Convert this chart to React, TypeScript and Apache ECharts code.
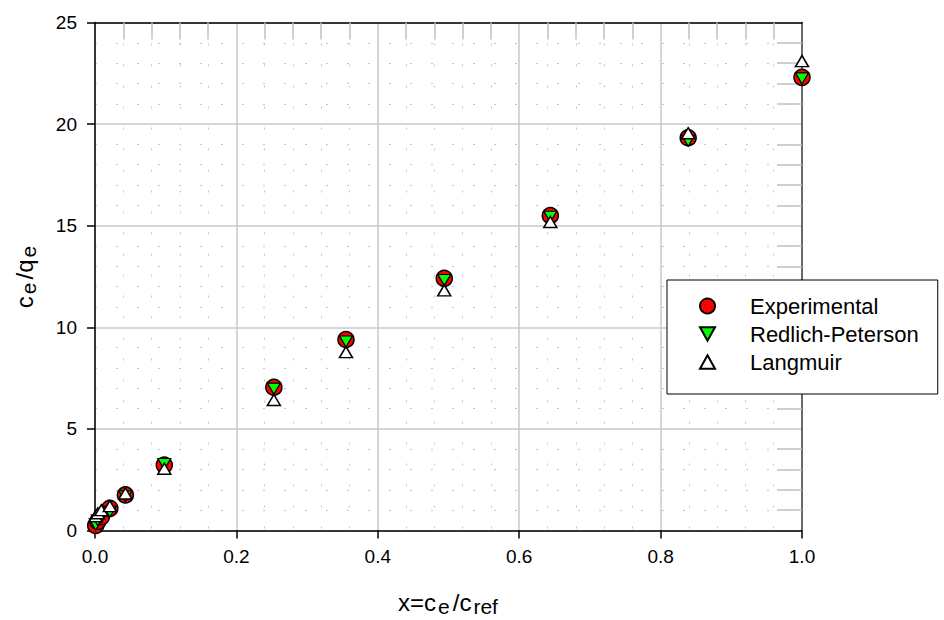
import React, { useEffect, useRef } from "react";
import * as echarts from "echarts";

const xValues = [0.001, 0.004, 0.009, 0.021, 0.043, 0.098, 0.253, 0.355, 0.494, 0.644, 0.839, 1.0];
const experimental = [0.25, 0.45, 0.68, 1.09, 1.75, 3.22, 7.05, 9.4, 12.41, 15.5, 19.33, 22.3];
const redlichPeterson = [0.3, 0.5, 0.66, 0.93, 1.68, 3.27, 6.98, 9.3, 12.33, 15.44, 19.18, 22.25];
const langmuir = [0.7, 0.85, 1.0, 1.2, 1.82, 3.04, 6.42, 8.78, 11.82, 15.18, 19.55, 23.1];
const seriesNames = ["Experimental", "Redlich-Peterson", "Langmuir"];

const FONT = "Arial, 'Liberation Sans', sans-serif";

function pairs(ys: number[]) {
  return xValues.map((x, i) => [x, ys[i]]);
}

export default function App() {
  const ref = useRef<HTMLDivElement>(null);
  useEffect(() => {
    if (!ref.current) return;
    const chart = echarts.init(ref.current, null, { renderer: "svg" });
    const minorSplit = {
      show: true,
      lineStyle: { color: "#c4c4c4", width: 1, type: [2, 19] as any },
    };
    const rich = {
      n: { fontSize: 24, fontFamily: FONT, color: "#000", padding: [0, 1, 0, 1] },
      s: { fontSize: 21, fontFamily: FONT, color: "#000", padding: [8, 2, 0, 1] },
    };
    chart.setOption({
      animation: false,
      backgroundColor: "#ffffff",
      textStyle: { fontFamily: FONT },
      grid: {
        left: 95,
        right: 142,
        top: 22.5,
        bottom: 89.5,
        containLabel: false,
        outerBoundsMode: "none",
      },
      legend: {
        orient: "vertical",
        left: 667,
        top: 280,
        padding: [14, 19, 20, 32],
        itemGap: 4,
        itemWidth: 15,
        itemHeight: 15,
        backgroundColor: "#ffffff",
        borderColor: "#000000",
        borderWidth: 1,
        borderRadius: 0,
        textStyle: { fontSize: 22, lineHeight: 24, color: "#000", fontFamily: FONT, padding: [0, 0, 0, 30] },
        data: [
          { name: seriesNames[0], icon: "circle" },
          { name: seriesNames[1], icon: "path://M0,0 L10,0 L5,9 Z" },
          { name: seriesNames[2], icon: "path://M5,0 L10,9 L0,9 Z" },
        ],
      },
      xAxis: [
        {
          type: "value",
          min: 0,
          max: 1,
          interval: 0.2,
          position: "bottom",
          axisLine: { show: true, onZero: false, lineStyle: { color: "#000", width: 1.5 } },
          axisTick: { show: true, length: 8, lineStyle: { color: "#000", width: 1.5 } },
          axisLabel: {
            fontSize: 19,
            color: "#000",
            margin: 16,
            fontFamily: FONT,
            formatter: (v: number) => v.toFixed(1),
          },
          splitLine: { show: true, lineStyle: { color: "#c8c8c8", width: 1.5 } },
          minorTick: { show: false, splitNumber: 5 },
          minorSplitLine: minorSplit,
          name: "{n|x=c}{s|e}{n|/c}{s|ref}",
          nameLocation: "middle",
          nameGap: 57,
          nameTextStyle: { rich },
        },
        {
          type: "value",
          min: 0,
          max: 1,
          interval: 0.2,
          position: "top",
          axisLine: { show: true, onZero: false, lineStyle: { color: "#000", width: 1.5 } },
          axisTick: { show: false, inside: true },
          axisLabel: { show: false },
          splitLine: { show: false },
          minorTick: { show: true, splitNumber: 5, length: 17, lineStyle: { color: "#c0c0c0", width: 1.5 } },
        },
      ],
      yAxis: [
        {
          type: "value",
          min: 0,
          max: 25,
          interval: 5,
          position: "left",
          axisLine: { show: true, onZero: false, lineStyle: { color: "#000", width: 1.5 } },
          axisTick: { show: true, length: 8, lineStyle: { color: "#000", width: 1.5 } },
          axisLabel: { fontSize: 19, color: "#000", margin: 18, fontFamily: FONT },
          splitLine: { show: true, lineStyle: { color: "#c8c8c8", width: 1.5 } },
          minorTick: { show: false, splitNumber: 5 },
          minorSplitLine: minorSplit,
          name: "{n|c}{s|e}{n|/q}{s|e}",
          nameLocation: "middle",
          nameGap: 56,
          nameTextStyle: { rich },
        },
        {
          type: "value",
          min: 0,
          max: 25,
          interval: 5,
          position: "right",
          axisLine: { show: true, onZero: false, lineStyle: { color: "#444", width: 1.5 } },
          axisTick: { show: false, inside: true },
          axisLabel: { show: false },
          splitLine: { show: false },
          minorTick: { show: true, splitNumber: 5, length: 25, lineStyle: { color: "#c0c0c0", width: 1.5 } },
        },
      ],
      series: [
        {
          name: seriesNames[0],
          type: "scatter",
          data: pairs(experimental),
          symbol: "circle",
          symbolSize: 16,
          clip: false,
          itemStyle: { color: "#ff0000", borderColor: "#000", borderWidth: 1.5, opacity: 1 },
          z: 3,
        },
        {
          name: seriesNames[1],
          type: "scatter",
          data: pairs(redlichPeterson),
          symbol: "triangle",
          symbolRotate: 180,
          symbolSize: [13, 11],
          clip: false,
          itemStyle: { color: "#00ff00", borderColor: "#000", borderWidth: 1.2, opacity: 1 },
          z: 4,
        },
        {
          name: seriesNames[2],
          type: "scatter",
          data: pairs(langmuir),
          symbol: "triangle",
          symbolSize: [13, 11],
          clip: false,
          itemStyle: { color: "#ffffff", borderColor: "#000", borderWidth: 1.5, opacity: 1 },
          z: 5,
        },
      ],
    });
    return () => chart.dispose();
  }, []);
  return (
    <div
      ref={ref}
      style={{ position: "fixed", left: 0, top: 0, width: 944, height: 620, background: "#fff" }}
    />
  );
}
